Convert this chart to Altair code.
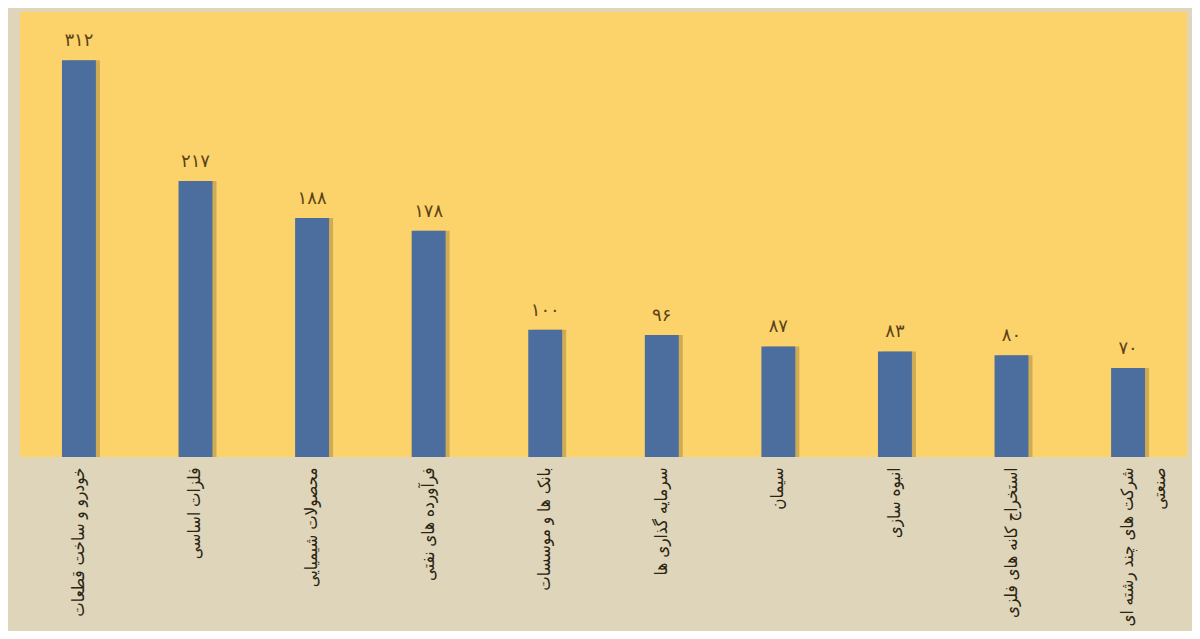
import altair as alt
import pandas as pd

categories = [
    "خودرو و ساخت قطعات",
    "فلزات اساسی",
    "محصولات شیمیایی",
    "فرآورده های نفتی",
    "بانک ها و موسسات",
    "سرمایه گذاری ها",
    "سیمان",
    "انبوه سازی",
    "استخراج کانه های فلزی",
    "شرکت های چند رشته ای|صنعتی",
]
values = [312, 217, 188, 178, 100, 96, 87, 83, 80, 70]
value_labels = ["۳۱۲", "۲۱۷", "۱۸۸", "۱۷۸", "۱۰۰", "۹۶", "۸۷", "۸۳", "۸۰", "۷۰"]

df = pd.DataFrame({"cat": categories, "val": values, "lab": value_labels})

FONT = "DejaVu Sans"
LFONT = "DejaVu Sans Condensed, DejaVu Sans"

x = alt.X(
    "cat:N",
    sort=None,
    scale=alt.Scale(paddingInner=0.709, paddingOuter=0.36),
    axis=alt.Axis(
        title=None,
        labelAngle=-90,
        labelAlign="right",
        labelBaseline="middle",
        labelPadding=10,
        labelFont=LFONT,
        labelFontSize=17,
        labelColor="#2a2410",
        labelLimit=300,
        labelLineHeight=32,
        labelExpr="split(datum.label, '|')",
        domain=False,
        ticks=False,
        grid=False,
    ),
)
y = alt.Y("val:Q", scale=alt.Scale(domain=[0, 350], nice=False), axis=None)

base = alt.Chart(df)
shadow = base.mark_bar(xOffset=4, color="#7a6228", opacity=0.35).encode(x=x, y=y)
bars = base.mark_bar(color="#4C6E9F").encode(x=x, y=y)
labels = base.mark_text(
    baseline="bottom", dy=-10, font=FONT, fontSize=18, color="#5a4318"
).encode(x=x, y=y, text="lab:N")

chart = (
    alt.layer(shadow, bars, labels)
    .properties(
        width=1167,
        height=445,
        autosize=alt.AutoSizeParams(type="none"),
        padding={"left": 12, "top": 4, "right": 5, "bottom": 174},
        background="#DED5BB",
    )
    .configure_view(fill="#FCD36A", stroke=None)
)

chart.save("out.html", embed_options={"renderer": "svg", "actions": False})
